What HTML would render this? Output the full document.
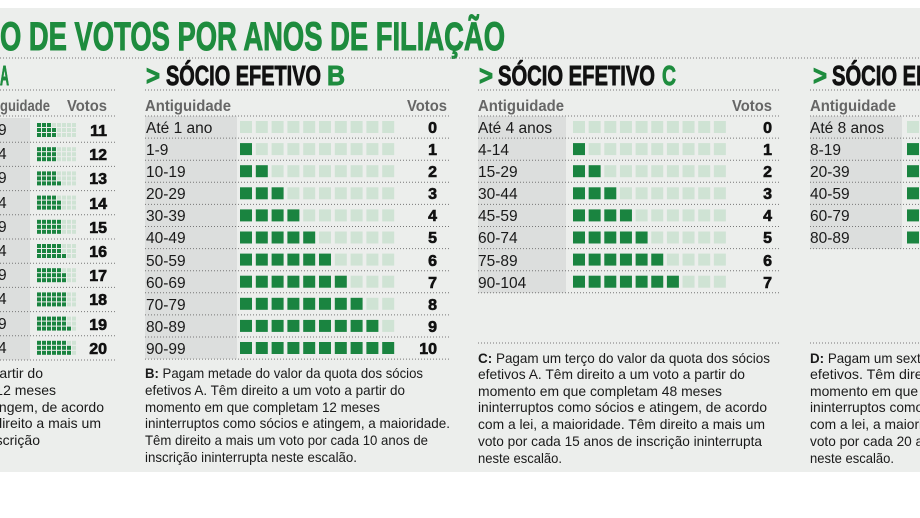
<!DOCTYPE html>
<html><head><meta charset="utf-8"><style>
html,body{margin:0;padding:0;background:#fff;}
svg{display:block;font-family:"Liberation Sans",sans-serif;}
.t{font-size:15.5px;fill:#1a1a1a;}
.h{font-size:15.5px;font-weight:bold;fill:#666;}
.n{font-size:16px;font-weight:bold;fill:#111;text-anchor:end;stroke:#111;stroke-width:0.6;}
.p{font-size:14px;fill:#1a1a1a;}
.hd{font-size:28px;font-weight:bold;fill:#111;stroke:#111;stroke-width:0.9;}
</style></head><body>
<svg id="s" width="920" height="518" viewBox="0 0 920 518" xmlns="http://www.w3.org/2000/svg">
<rect x="0" y="0" width="920" height="518" fill="#ffffff"/>
<rect x="0" y="8" width="920" height="464" fill="#eceeec"/>
<g id="bg"></g>
<text x="0" y="50" font-size="40" font-weight="bold" fill="#1e8c3e" stroke="#1e8c3e" stroke-width="1" textLength="505" lengthAdjust="spacingAndGlyphs">O DE VOTOS POR ANOS DE FILIAÇÃO</text>

<text x="0" y="85" class="hd" style="fill:#1e8c3e;stroke:#1e8c3e" textLength="9" lengthAdjust="spacingAndGlyphs">A</text>
<text x="146" y="85" class="hd" style="fill:#1e8c3e;stroke:#1e8c3e" textLength="14" lengthAdjust="spacingAndGlyphs">&gt;</text>
<text x="166" y="85" class="hd" textLength="155" lengthAdjust="spacingAndGlyphs">SÓCIO EFETIVO</text>
<text x="327" y="85" class="hd" style="fill:#1e8c3e;stroke:#1e8c3e" textLength="18" lengthAdjust="spacingAndGlyphs">B</text>
<text x="479" y="85" class="hd" style="fill:#1e8c3e;stroke:#1e8c3e" textLength="14" lengthAdjust="spacingAndGlyphs">&gt;</text>
<text x="498" y="85" class="hd" textLength="157" lengthAdjust="spacingAndGlyphs">SÓCIO EFETIVO</text>
<text x="662" y="85" class="hd" style="fill:#1e8c3e;stroke:#1e8c3e" textLength="14" lengthAdjust="spacingAndGlyphs">C</text>
<text x="813" y="85" class="hd" style="fill:#1e8c3e;stroke:#1e8c3e" textLength="14" lengthAdjust="spacingAndGlyphs">&gt;</text>
<text x="832" y="85" class="hd" textLength="157" lengthAdjust="spacingAndGlyphs">SÓCIO EFETIVO</text>

<text x="0" y="111" class="h" textLength="50" lengthAdjust="spacingAndGlyphs">guidade</text>
<text x="67" y="111" class="h" textLength="40" lengthAdjust="spacingAndGlyphs">Votos</text>
<text x="145" y="111" class="h" textLength="86" lengthAdjust="spacingAndGlyphs">Antiguidade</text>
<text x="407" y="111" class="h" textLength="40" lengthAdjust="spacingAndGlyphs">Votos</text>
<text x="478" y="111" class="h" textLength="86" lengthAdjust="spacingAndGlyphs">Antiguidade</text>
<text x="732" y="111" class="h" textLength="40" lengthAdjust="spacingAndGlyphs">Votos</text>
<text x="810" y="111" class="h" textLength="86" lengthAdjust="spacingAndGlyphs">Antiguidade</text>

<g class="t">
<text x="-2" y="135">9</text><text x="-2" y="159">4</text><text x="-2" y="183">9</text><text x="-2" y="208">4</text><text x="-2" y="232">9</text><text x="-2" y="256">4</text><text x="-2" y="280">9</text><text x="-2" y="304">4</text><text x="-2" y="329">9</text><text x="-2" y="353">4</text>
</g>
<g class="n">
<text x="107" y="136">11</text><text x="107" y="160">12</text><text x="107" y="184">13</text><text x="107" y="209">14</text><text x="107" y="233">15</text><text x="107" y="257">16</text><text x="107" y="281">17</text><text x="107" y="305">18</text><text x="107" y="330">19</text><text x="107" y="354">20</text>
</g>

<g class="t">
<text x="146" y="133">Até 1 ano</text><text x="146" y="155">1-9</text><text x="146" y="177">10-19</text><text x="146" y="199">20-29</text><text x="146" y="221">30-39</text><text x="146" y="243">40-49</text><text x="146" y="266">50-59</text><text x="146" y="288">60-69</text><text x="146" y="310">70-79</text><text x="146" y="332">80-89</text><text x="146" y="354">90-99</text>
</g>
<g class="n">
<text x="437" y="133">0</text><text x="437" y="155">1</text><text x="437" y="177">2</text><text x="437" y="199">3</text><text x="437" y="221">4</text><text x="437" y="243">5</text><text x="437" y="266">6</text><text x="437" y="288">7</text><text x="437" y="310">8</text><text x="437" y="332">9</text><text x="437" y="354">10</text>
</g>

<g class="t">
<text x="478" y="133">Até 4 anos</text><text x="478" y="155">4-14</text><text x="478" y="177">15-29</text><text x="478" y="199">30-44</text><text x="478" y="221">45-59</text><text x="478" y="243">60-74</text><text x="478" y="266">75-89</text><text x="478" y="288">90-104</text>
</g>
<g class="n">
<text x="772" y="133">0</text><text x="772" y="155">1</text><text x="772" y="177">2</text><text x="772" y="199">3</text><text x="772" y="221">4</text><text x="772" y="243">5</text><text x="772" y="266">6</text><text x="772" y="288">7</text>
</g>

<g class="t">
<text x="810" y="133">Até 8 anos</text><text x="810" y="155">8-19</text><text x="810" y="177">20-39</text><text x="810" y="199">40-59</text><text x="810" y="221">60-79</text><text x="810" y="243">80-89</text>
</g>

<g class="p" text-anchor="end">
<text x="43" y="378">artir do</text>
<text x="56" y="395">12 meses</text>
<text x="104" y="412">ingem, de acordo</text>
<text x="101" y="428">direito a mais um</text>
<text x="40" y="445">scrição</text>
</g>

<g class="p">
<text x="145" y="378" textLength="278" lengthAdjust="spacingAndGlyphs"><tspan font-weight="bold">B:</tspan> Pagam metade do valor da quota dos sócios</text>
<text x="145" y="395" textLength="260" lengthAdjust="spacingAndGlyphs">efetivos A. Têm direito a um voto a partir do</text>
<text x="145" y="412" textLength="235" lengthAdjust="spacingAndGlyphs">momento em que completam 12 meses</text>
<text x="145" y="428" textLength="305" lengthAdjust="spacingAndGlyphs">ininterruptos como sócios e atingem, a maioridade.</text>
<text x="145" y="445" textLength="283" lengthAdjust="spacingAndGlyphs">Têm direito a mais um voto por cada 10 anos de</text>
<text x="145" y="462" textLength="212" lengthAdjust="spacingAndGlyphs">inscrição ininterrupta neste escalão.</text>
</g>

<g class="p">
<text x="478" y="363" textLength="292" lengthAdjust="spacingAndGlyphs"><tspan font-weight="bold">C:</tspan> Pagam um terço do valor da quota dos sócios</text>
<text x="478" y="379" textLength="267" lengthAdjust="spacingAndGlyphs">efetivos A. Têm direito a um voto a partir do</text>
<text x="478" y="396" textLength="244" lengthAdjust="spacingAndGlyphs">momento em que completam 48 meses</text>
<text x="478" y="412" textLength="289" lengthAdjust="spacingAndGlyphs">ininterruptos como sócios e atingem, de acordo</text>
<text x="478" y="429" textLength="287" lengthAdjust="spacingAndGlyphs">com a lei, a maioridade. Têm direito a mais um</text>
<text x="478" y="446" textLength="284" lengthAdjust="spacingAndGlyphs">voto por cada 15 anos de inscrição ininterrupta</text>
<text x="478" y="463" textLength="84" lengthAdjust="spacingAndGlyphs">neste escalão.</text>
</g>

<g class="p">
<text x="810" y="363" textLength="292" lengthAdjust="spacingAndGlyphs"><tspan font-weight="bold">D:</tspan> Pagam um sexto do valor da quota dos sócios</text>
<text x="810" y="379" textLength="262" lengthAdjust="spacingAndGlyphs">efetivos. Têm direito a um voto a partir do</text>
<text x="810" y="396" textLength="244" lengthAdjust="spacingAndGlyphs">momento em que completam 96 meses</text>
<text x="810" y="412" textLength="289" lengthAdjust="spacingAndGlyphs">ininterruptos como sócios e atingem, de acordo</text>
<text x="810" y="429" textLength="287" lengthAdjust="spacingAndGlyphs">com a lei, a maioridade. Têm direito a mais um</text>
<text x="810" y="446" textLength="284" lengthAdjust="spacingAndGlyphs">voto por cada 20 anos de inscrição ininterrupta</text>
<text x="810" y="463" textLength="84" lengthAdjust="spacingAndGlyphs">neste escalão.</text>
</g>
<g id="fg"></g>
</svg>
<script>
(function(){
var NS="http://www.w3.org/2000/svg",bg=document.getElementById("bg"),fg=document.getElementById("fg");
function r(g,x,y,w,h,c){var e=document.createElementNS(NS,"rect");e.setAttribute("x",x);e.setAttribute("y",y);e.setAttribute("width",w);e.setAttribute("height",h);e.setAttribute("fill",c);g.appendChild(e);}
function l(x1,x2,y){var e=document.createElementNS(NS,"line");e.setAttribute("x1",x1);e.setAttribute("x2",x2);e.setAttribute("y1",y);e.setAttribute("y2",y);e.setAttribute("stroke","#777");e.setAttribute("stroke-width","1");e.setAttribute("stroke-dasharray","1 2");fg.appendChild(e);}
var G="#1a8440",E="#cfe3d4",GB="#dcdedd";
l(0,920,58);l(0,115,90);l(145,450,90);l(478,780,90);l(810,920,90);
l(0,115,116);l(145,450,116);l(478,780,116);l(810,920,116);
r(bg,0,118,30,242,GB);
for(var i=0;i<10;i++){var top=118+i*24.2,n=11+i;var per=[Math.floor(n/3),Math.floor((n+1)/3),Math.floor((n+2)/3)];
for(var rr=0;rr<3;rr++)for(var c=0;c<8;c++)r(fg,37+c*5,top+5+rr*5,4,4,c<per[rr]?G:E);
l(0,115,top+24.2);}
r(bg,145,116,92,243,GB);
for(var i=0;i<11;i++){var top=116+i*22.1;for(var j=0;j<10;j++)r(fg,240+j*15.8,top+5,12,12,j<i?G:E);l(145,450,top+22.1);}
r(bg,478,116,88,177,GB);
for(var i=0;i<8;i++){var top=116+i*22.1;for(var j=0;j<10;j++)r(fg,573+j*15.65,top+5,12,12,j<i?G:E);l(478,780,top+22.1);}
r(bg,810,116,92,133,GB);
for(var i=0;i<6;i++){var top=116+i*22.1;for(var j=0;j<2;j++)r(fg,907+j*15.7,top+5,12,12,j<i?G:E);l(810,920,top+22.1);}
l(478,780,343);l(810,920,343);
})();
</script>
</body></html>
